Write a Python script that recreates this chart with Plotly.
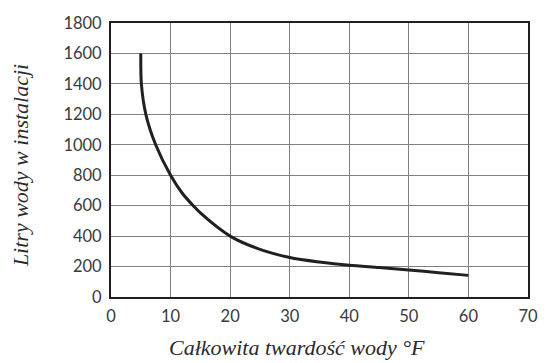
import plotly.graph_objects as go

# Water hardness (°F) vs. litres of water in the installation
hardness = [5, 5.1, 5.85, 7.5, 10, 12, 13.8, 15, 20, 25, 30, 35, 40, 45, 50, 55, 60]
litres = [1600, 1400, 1200, 1000, 800, 680, 600, 552, 400, 313, 260, 230, 208, 193, 177, 160, 142]

x_ticks = [0, 10, 20, 30, 40, 50, 60, 70]
y_ticks = [0, 200, 400, 600, 800, 1000, 1200, 1400, 1600, 1800]

x_title = "Całkowita twardość wody °F"
y_title = "Litry wody w instalacji"

fig = go.Figure()
fig.add_trace(go.Scatter(
    x=hardness, y=litres, mode="lines",
    line=dict(color="#231f20", width=3, shape="spline", smoothing=0.8),
    showlegend=False, hoverinfo="skip",
))

tick_font = dict(family="Lato, 'Noto Sans', sans-serif", size=16.5, color="#3a3a3a")
title_font = dict(family="'Liberation Serif', 'DejaVu Serif', serif", size=22, color="#2a2a2a")

fig.update_xaxes(
    range=[0, 70], tickvals=x_ticks, ticktext=[str(v) for v in x_ticks],
    showgrid=True, gridcolor="#808080", gridwidth=1,
    showline=True, linecolor="#231f20", linewidth=2, mirror=True,
    zeroline=False, ticks="", tickfont=tick_font, ticklabelstandoff=3,
)
fig.update_yaxes(
    range=[0, 1800], tickvals=y_ticks, ticktext=[str(v) for v in y_ticks],
    showgrid=True, gridcolor="#808080", gridwidth=1,
    showline=True, linecolor="#231f20", linewidth=2, mirror=True,
    zeroline=False, ticks="", tickfont=tick_font, ticklabelstandoff=4,
)

# Axis titles placed as annotations
fig.add_annotation(
    text=f"<i>{x_title}</i>", xref="paper", yref="paper",
    x=0.445, y=-0.186, xanchor="center", yanchor="middle",
    showarrow=False, font=title_font,
)
fig.add_annotation(
    text=f"<i>{y_title}</i>", xref="paper", yref="paper",
    x=-0.218, y=0.478, xanchor="center", yanchor="middle",
    textangle=-90, showarrow=False, font=title_font,
)

fig.update_layout(
    width=547, height=363,
    margin=dict(l=111, r=9, t=23, b=66),
    paper_bgcolor="white", plot_bgcolor="white",
)

fig.write_html("out.html")
